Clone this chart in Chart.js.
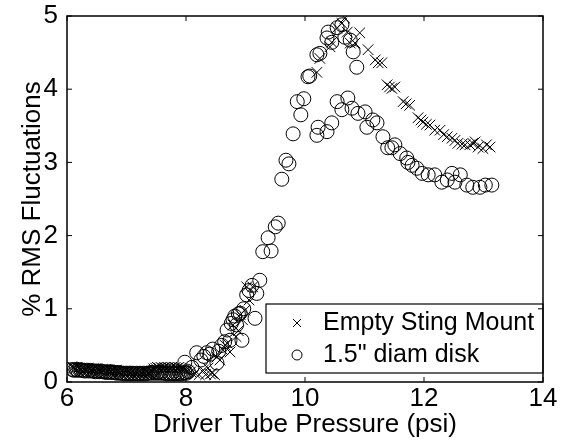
<!DOCTYPE html>
<html>
<head>
<meta charset="utf-8">
<script src="https://cdn.jsdelivr.net/npm/chart.js@4.4.1/dist/chart.umd.min.js"></script>
<style>
  html, body { margin: 0; padding: 0; background: #fff; }
  #wrap { width: 566px; height: 446px; }
</style>
</head>
<body>
<div id="wrap"><canvas id="rmsChart" width="566" height="446"></canvas></div>
<script>
// tick labels
const xTicks = [6, 8, 10, 12, 14];
const yTicks = [0, 1, 2, 3, 4, 5];

// Empty Sting Mount (x markers)
const stingX = [
  6.08, 6.11, 6.14, 6.17, 6.20, 6.23, 6.26, 6.29, 6.32, 6.35, 6.38, 6.41, 6.44, 6.47, 6.50, 6.53,
  6.56, 6.59, 6.62, 6.65, 6.68, 6.71, 6.74, 6.77, 6.80, 6.83, 6.86, 6.89, 6.92, 6.95, 6.98, 7.01,
  7.04, 7.07, 7.10, 7.13, 7.16, 7.19, 7.22, 7.25, 7.28, 7.31, 7.34, 7.37, 7.40, 7.43, 7.46, 7.49,
  7.52, 7.55, 7.58, 7.61, 7.64, 7.67, 7.70, 7.73, 7.76, 7.79, 7.82, 7.85, 7.88, 7.91, 7.94, 7.97,
  8.00, 8.03,
  8.08, 8.15, 8.22, 8.29, 8.33, 8.37, 8.41, 8.44, 8.48, 8.52, 8.57, 8.62, 8.66, 8.69, 8.74, 8.79,
  8.84, 8.88, 8.91, 8.95, 8.99, 9.02, 9.06, 9.12,
  10.20, 10.25, 10.42, 10.45, 10.54, 10.62, 10.67, 10.71, 10.76, 10.84, 10.92, 11.06, 11.18, 11.23,
  11.29, 11.38, 11.42, 11.46, 11.51, 11.65, 11.70, 11.76, 11.90, 11.95, 11.98, 12.04, 12.10, 12.18,
  12.27, 12.33, 12.39, 12.47, 12.52, 12.57, 12.64, 12.69, 12.77, 12.82, 12.86, 12.91, 12.99, 13.05,
  13.11
];
const stingY = [
  0.21, 0.20, 0.19, 0.20, 0.19, 0.18, 0.19, 0.18, 0.18, 0.19, 0.18, 0.17, 0.18, 0.17, 0.18, 0.17,
  0.16, 0.17, 0.16, 0.17, 0.16, 0.16, 0.15, 0.16, 0.15, 0.16, 0.15, 0.14, 0.15, 0.14, 0.15, 0.14,
  0.14, 0.13, 0.14, 0.13, 0.14, 0.13, 0.14, 0.13, 0.14, 0.13, 0.14, 0.13, 0.14, 0.15, 0.18, 0.19,
  0.20, 0.19, 0.20, 0.19, 0.20, 0.19, 0.20, 0.19, 0.20, 0.19, 0.20, 0.19, 0.20, 0.19, 0.18, 0.17,
  0.16, 0.15,
  0.14, 0.12, 0.10, 0.16, 0.10, 0.19, 0.11, 0.12, 0.10, 0.34, 0.30, 0.44, 0.50, 0.53, 0.41, 0.78,
  0.62, 0.70, 0.92, 0.85, 0.98, 1.30, 1.12, 1.30,
  4.23, 4.42, 4.58, 4.64, 4.84, 4.90, 4.97, 4.78, 4.63, 4.63, 4.77, 4.54, 4.40, 4.36,
  4.36, 4.06, 4.03, 4.01, 4.03, 3.83, 3.80, 3.78, 3.61, 3.58, 3.55, 3.52, 3.51, 3.44,
  3.44, 3.38, 3.35, 3.33, 3.30, 3.26, 3.25, 3.24, 3.24, 3.26, 3.28, 3.21, 3.19, 3.24,
  3.21
];

// 1.5" diam disk (circles)
const diskX = [
  6.09, 6.12, 6.15, 6.18, 6.21, 6.24, 6.27, 6.30, 6.33, 6.36, 6.39, 6.42, 6.45, 6.48, 6.51, 6.54,
  6.57, 6.60, 6.63, 6.66, 6.69, 6.72, 6.75, 6.78, 6.81, 6.84, 6.87, 6.90, 6.93, 6.96, 6.99, 7.02,
  7.05, 7.08, 7.11, 7.14, 7.17, 7.20, 7.23, 7.26, 7.29, 7.32, 7.35, 7.38, 7.41, 7.44, 7.47, 7.50,
  7.53, 7.56, 7.59, 7.62, 7.65, 7.68, 7.71, 7.74, 7.77, 7.80, 7.83, 7.86, 7.89, 7.92, 7.95, 7.98,
  8.01, 8.04,
  7.98, 8.10, 8.18, 8.25, 8.30, 8.35, 8.40, 8.45, 8.52, 8.55, 8.60, 8.65, 8.69, 8.74, 8.76, 8.79,
  8.82, 8.85, 8.88, 8.91, 8.94, 8.97, 9.02, 9.06, 9.11, 9.16, 9.19, 9.24, 9.29, 9.38, 9.43, 9.50,
  9.55, 9.61, 9.68, 9.73, 9.80, 9.87, 9.93, 9.98, 10.05, 10.08, 10.20, 10.25, 10.37, 10.39, 10.45,
  10.54, 10.62, 10.67, 10.76, 10.81, 10.87,
  10.20, 10.22, 10.37, 10.45, 10.54, 10.62, 10.72, 10.79, 10.89, 11.01, 11.04, 11.14, 11.21, 11.31,
  11.39, 11.46, 11.51, 11.60, 11.71, 11.73, 11.80, 11.88, 11.97, 12.07, 12.18, 12.30, 12.39, 12.47,
  12.52, 12.61, 12.72, 12.82, 12.94, 13.03, 13.14
];
const diskY = [
  0.17, 0.16, 0.17, 0.16, 0.17, 0.16, 0.16, 0.15, 0.16, 0.15, 0.16, 0.15, 0.15, 0.14, 0.15, 0.14,
  0.15, 0.14, 0.14, 0.13, 0.14, 0.13, 0.14, 0.13, 0.13, 0.12, 0.13, 0.12, 0.12, 0.11, 0.12, 0.11,
  0.12, 0.11, 0.12, 0.11, 0.12, 0.11, 0.12, 0.11, 0.12, 0.11, 0.12, 0.12, 0.13, 0.12, 0.13, 0.12,
  0.13, 0.12, 0.13, 0.12, 0.12, 0.11, 0.12, 0.11, 0.12, 0.11, 0.12, 0.11, 0.12, 0.11, 0.12, 0.13,
  0.12, 0.14,
  0.27, 0.20, 0.40, 0.30, 0.35, 0.40, 0.38, 0.45, 0.26, 0.42, 0.50, 0.55, 0.71, 0.57, 0.80, 0.85,
  0.90, 0.78, 0.93, 0.94, 0.57, 1.00, 1.19, 1.25, 1.32, 0.87, 1.21, 1.39, 1.78, 1.97, 1.79, 2.12,
  2.17, 2.77, 3.03, 2.98, 3.39, 3.83, 3.65, 3.87, 4.17, 4.18, 4.47, 4.49, 4.70, 4.78, 4.64,
  4.84, 4.88, 4.71, 4.67, 4.51, 4.30,
  3.37, 3.48, 3.42, 3.54, 3.83, 3.72, 3.88, 3.74, 3.67, 3.69, 3.48, 3.58, 3.54, 3.35,
  3.20, 3.20, 3.24, 3.12, 3.06, 3.00, 2.96, 2.92, 2.85, 2.83, 2.83, 2.73, 2.76, 2.85,
  2.73, 2.83, 2.69, 2.66, 2.66, 2.69, 2.69
];

const FONT = 'Liberation Sans, Arial, Helvetica, sans-serif';
const labelFont = { family: FONT, size: 26 };

const boxPlugin = {
  id: 'boxPlugin',
  afterDatasetsDraw(chart) {
    const { ctx, chartArea: a, scales: { x, y } } = chart;
    ctx.save();
    // legend box
    const lx = 266, ly = 304, lw = a.right - 266, lh = 69;
    ctx.fillStyle = '#fff';
    ctx.fillRect(lx, ly, lw, lh);
    ctx.strokeStyle = '#000';
    ctx.lineWidth = 1.2;
    ctx.strokeRect(lx, ly, lw, lh);
    ctx.lineWidth = 1;
    ctx.beginPath();
    ctx.moveTo(293, 319); ctx.lineTo(301, 327);
    ctx.moveTo(301, 319); ctx.lineTo(293, 327);
    ctx.stroke();
    ctx.beginPath();
    ctx.arc(297, 355, 5, 0, Math.PI * 2);
    ctx.stroke();
    ctx.fillStyle = '#000';
    ctx.font = '25px ' + FONT;
    ctx.textBaseline = 'middle';
    ctx.textAlign = 'left';
    ctx.fillText('Empty Sting Mount', 323, 323);
    ctx.fillText('1.5" diam disk', 323, 355);

    // axes box with inward ticks on all sides
    ctx.lineWidth = 1.5;
    ctx.strokeRect(a.left, a.top, a.right - a.left, a.bottom - a.top);
    ctx.lineWidth = 1;
    ctx.beginPath();
    xTicks.forEach(v => {
      const px = x.getPixelForValue(v);
      ctx.moveTo(px, a.bottom); ctx.lineTo(px, a.bottom - 5);
      ctx.moveTo(px, a.top); ctx.lineTo(px, a.top + 5);
    });
    yTicks.forEach(v => {
      const py = y.getPixelForValue(v);
      ctx.moveTo(a.left, py); ctx.lineTo(a.left + 5, py);
      ctx.moveTo(a.right, py); ctx.lineTo(a.right - 5, py);
    });
    ctx.stroke();
    ctx.restore();
  }
};

new Chart(document.getElementById('rmsChart').getContext('2d'), {
  type: 'scatter',
  data: {
    datasets: [
      {
        label: 'Empty Sting Mount',
        data: stingX.map((v, i) => ({ x: v, y: stingY[i] })),
        pointStyle: 'crossRot',
        pointRadius: 7.5,
        borderColor: '#000',
        borderWidth: 1,
        backgroundColor: 'transparent'
      },
      {
        label: '1.5" diam disk',
        data: diskX.map((v, i) => ({ x: v, y: diskY[i] })),
        pointStyle: 'circle',
        pointRadius: 7,
        borderColor: '#000',
        borderWidth: 1,
        backgroundColor: 'transparent'
      }
    ]
  },
  options: {
    responsive: false,
    animation: false,
    layout: { padding: { left: 0, right: 23, top: 16, bottom: 0 } },
    plugins: { legend: { display: false }, tooltip: { enabled: false } },
    scales: {
      x: {
        type: 'linear', min: 6, max: 14,
        afterBuildTicks: s => { s.ticks = xTicks.map(v => ({ value: v })); },
        afterFit: s => { s.height = 64; s.paddingLeft = 0; s.paddingRight = 0; },
        grid: { display: false, drawTicks: false },
        border: { display: false },
        ticks: { font: labelFont, color: '#000', padding: 1, maxRotation: 0 },
        title: { display: true, text: 'Driver Tube Pressure (psi)', font: { family: FONT, size: 26, lineHeight: 1 }, color: '#000', padding: { top: 0, bottom: 8 } }
      },
      y: {
        type: 'linear', min: 0, max: 5,
        afterBuildTicks: s => { s.ticks = yTicks.map(v => ({ value: v })); },
        afterFit: s => { s.width = 67; s.paddingTop = 0; s.paddingBottom = 0; },
        grid: { display: false, drawTicks: false },
        border: { display: false },
        ticks: { font: labelFont, color: '#000', padding: 9 },
        title: { display: true, text: '% RMS Fluctuations', font: { family: FONT, size: 26, lineHeight: 1 }, color: '#000', padding: { top: 20, bottom: 0 } }
      }
    }
  },
  plugins: [boxPlugin]
});
</script>
</body>
</html>
